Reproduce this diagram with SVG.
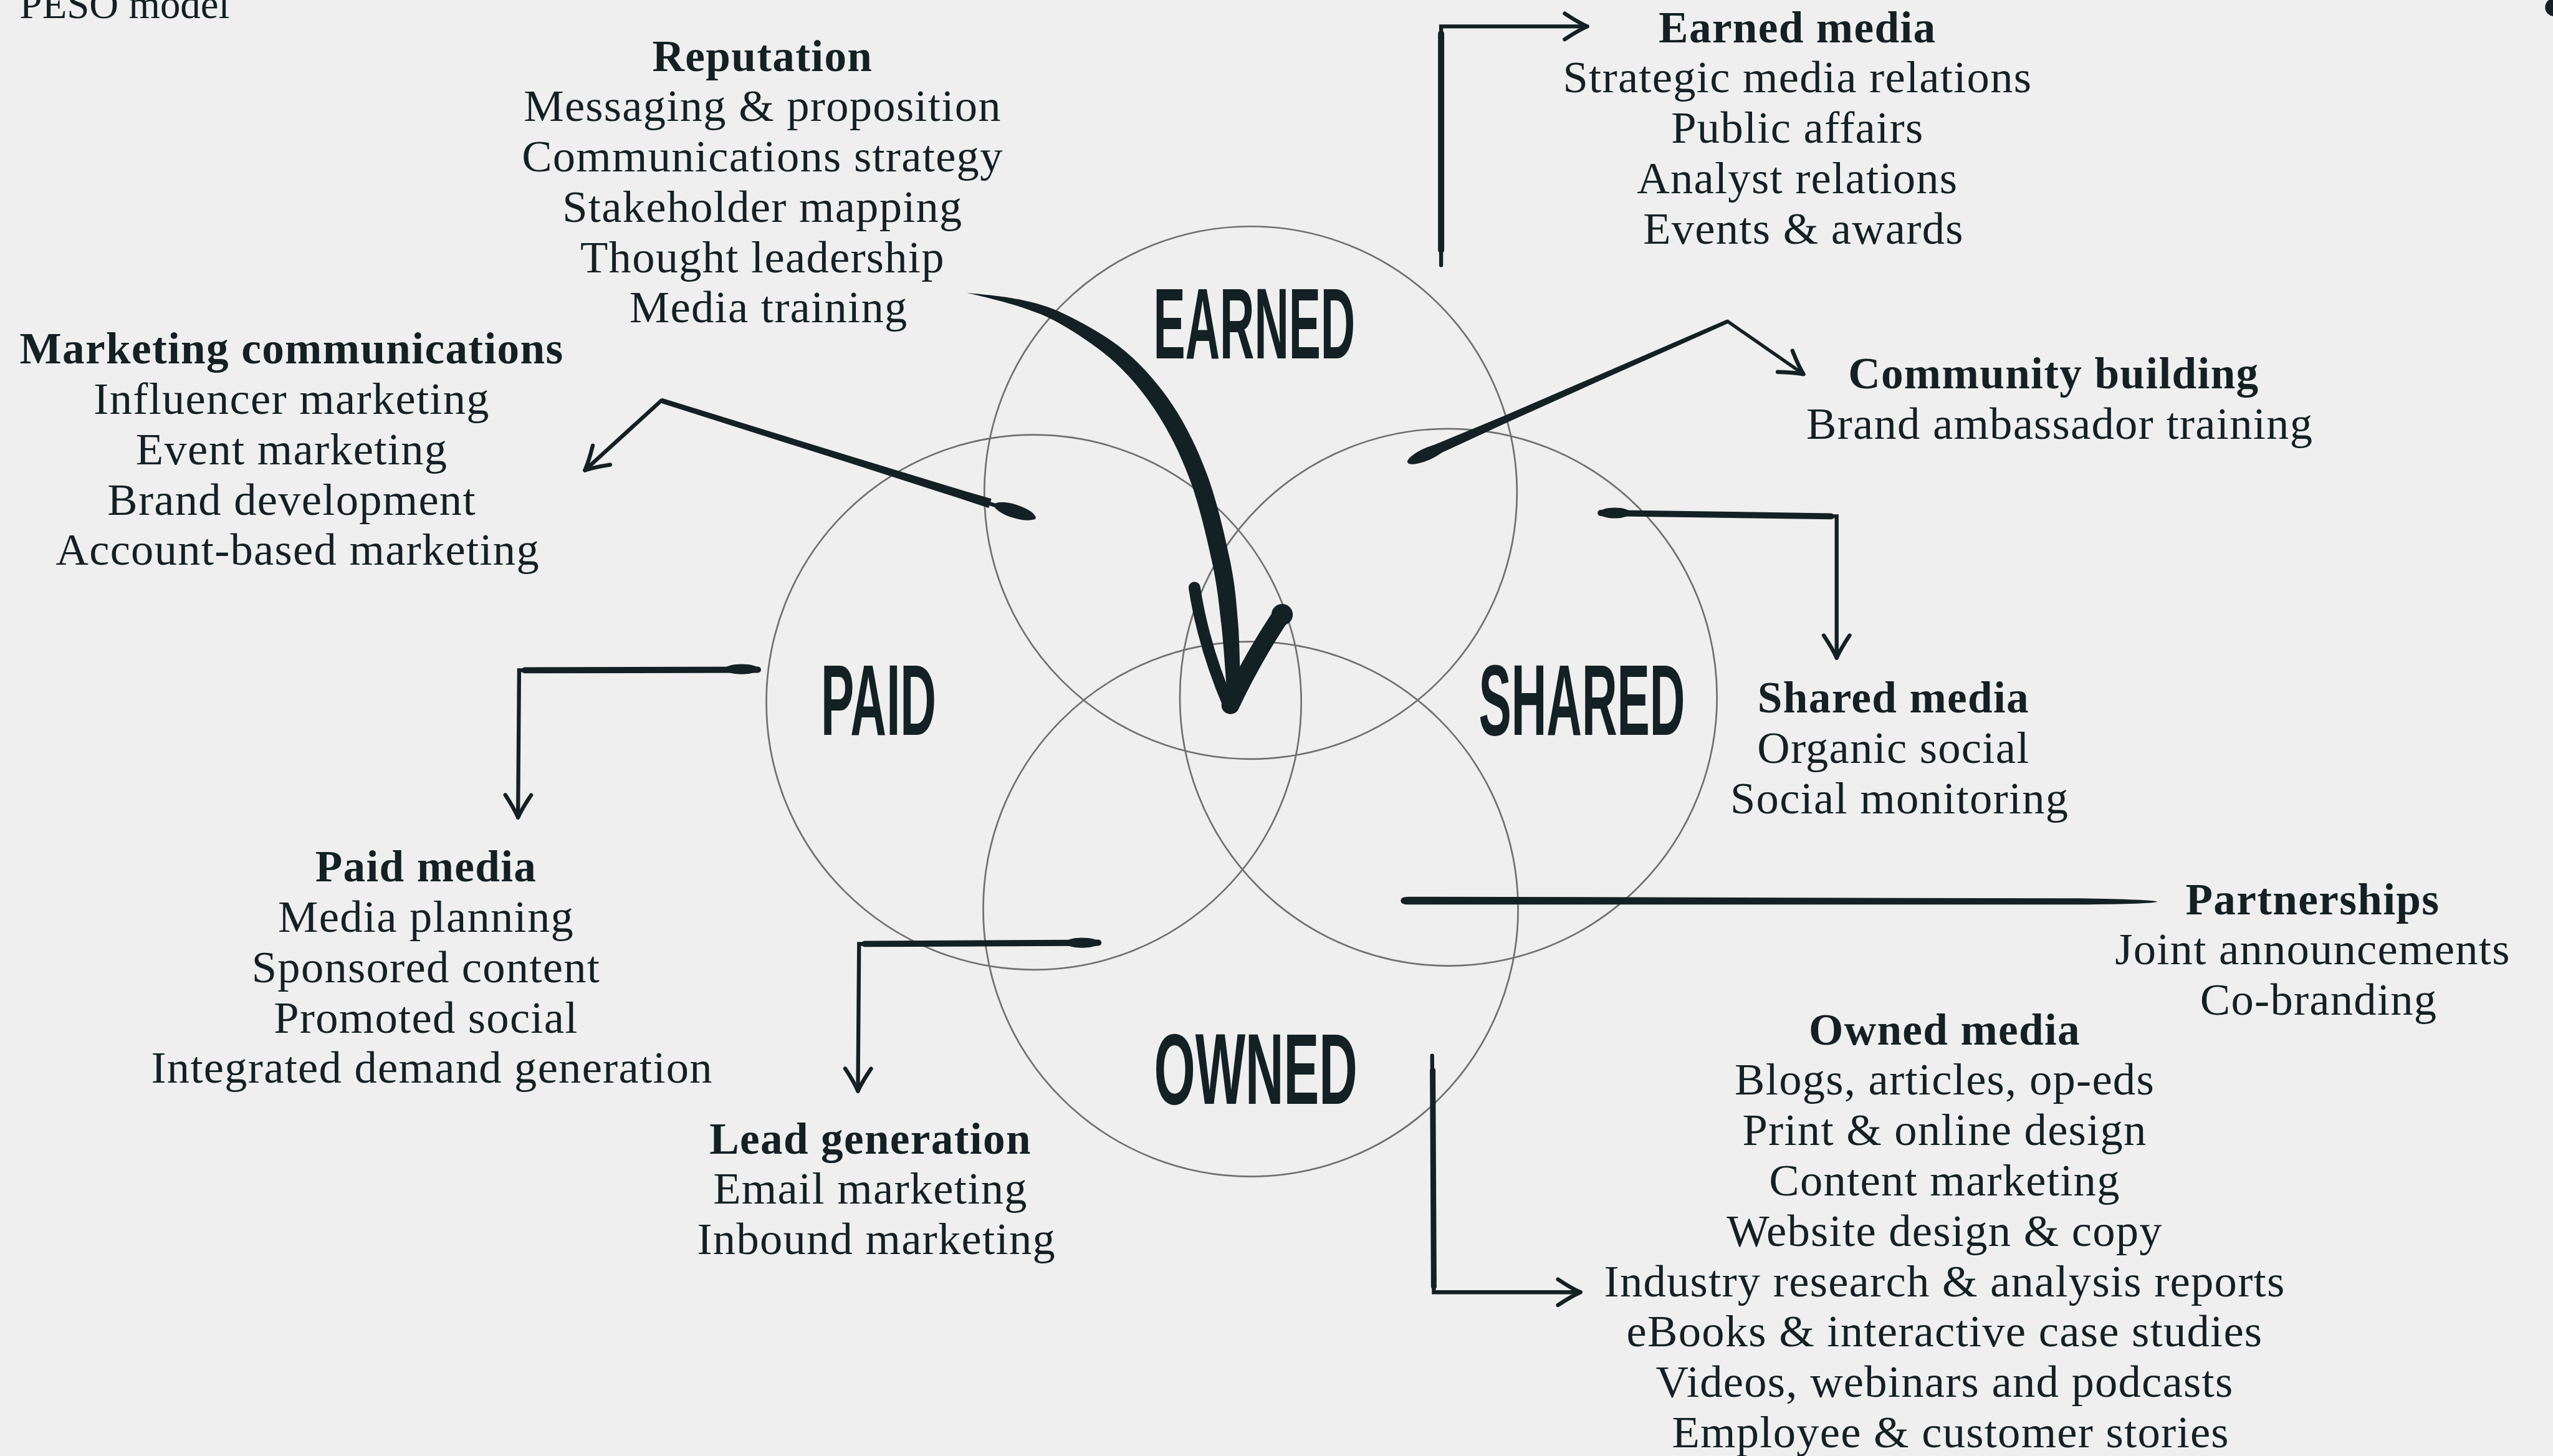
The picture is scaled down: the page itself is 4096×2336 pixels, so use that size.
<svg xmlns="http://www.w3.org/2000/svg" width="4096" height="2336" viewBox="0 0 4096 2336">
<style>
  .ring { fill: none; stroke: #707070; stroke-width: 3; }
  .big { font-family: "Liberation Sans", Arial, sans-serif; font-weight: 700; font-size: 180px; fill: #132024; }
  .t { font-family: "Liberation Serif", "Times New Roman", serif; font-size: 80.5px; letter-spacing: 1.4px; fill: #132024; text-anchor: middle; }
  .h { font-weight: 700; font-size: 79px; letter-spacing: 1.5px; }
  .ink { fill: none; stroke: #132024; stroke-linecap: round; stroke-linejoin: miter; }
  .blob { fill: #132024; }
</style>
<defs>
  <marker id="tip" markerUnits="userSpaceOnUse" orient="auto" viewBox="-50 -50 100 100" markerWidth="100" markerHeight="100" refX="0" refY="0" overflow="visible">
    <path d="M-40 -23 Q-16 -7 0 0 Q-16 7 -40 23" fill="none" stroke="#132024" stroke-width="7" stroke-linecap="round" stroke-linejoin="round"/>
  </marker>
</defs>
<rect width="4096" height="2336" fill="#efefef"/>
<g transform="scale(0.90141)">
  <text class="t" x="35" y="32" style="text-anchor:start;font-size:72px;letter-spacing:0">PESO model</text>
  <circle cx="4546" cy="13" r="16" fill="#132024"/>

  <!-- the four overlapping channel circles -->
  <g id="circles">
    <circle id="ring-earned" class="ring" cx="2226" cy="877" r="474"/>
    <circle id="ring-paid" class="ring" cx="1840" cy="1250" r="476"/>
    <circle id="ring-shared" class="ring" cx="2578" cy="1241" r="478"/>
    <circle id="ring-owned" class="ring" cx="2226" cy="1618" r="476"/>
  </g>

  <!-- condensed channel labels: bold sans squeezed horizontally -->
  <g id="node-earned"><text class="big" transform="translate(2053 638) scale(0.4724 1)">EARNED</text></g>
  <g id="node-paid"><text class="big" transform="translate(1461 1308) scale(0.493 1)">PAID</text></g>
  <g id="node-shared"><text class="big" transform="translate(2632 1308) scale(0.483 1)">SHARED</text></g>
  <g id="node-owned"><text class="big" transform="translate(2054 1965) scale(0.5246 1)">OWNED</text></g>

  <!-- brush-style connectors -->
  <g id="connectors">
    <!-- Reputation: large tapered curve into the centre -->
    <g id="conn-reputation">
      <path class="blob" d="M1721 521 C1735.9 524.9 1782.7 535.2 1810.6 544.5 C1838.5 553.9 1859.3 560.3 1888.4 577.1 C1917.5 593.9 1956.2 618.8 1985 645.6 C2013.8 672.4 2038.9 702.9 2061.1 737.9 C2083.4 772.9 2102.5 812 2118.5 855.7 C2134.5 899.5 2148.1 957.7 2157.3 1000.4 C2166.5 1043.1 2169.4 1072.6 2173.8 1111.7 C2178.3 1150.9 2180.6 1194.1 2184 1235.3 L2208 1234.7 C2206.5 1192.8 2206.8 1148.9 2203.6 1108.9 C2200.4 1068.9 2197.9 1038.6 2188.7 994.6 C2179.5 950.6 2165.4 890.3 2148.5 844.7 C2131.6 799.1 2111.4 757.7 2087.1 721.1 C2062.9 684.6 2034.8 652.3 2003 625.4 C1971.3 598.5 1928.1 575.3 1896.6 559.9 C1865.1 544.5 1843.1 539.4 1813.8 532.9 C1784.5 526.4 1736.5 523 1721 521 Z"/>
      <path class="ink" d="M2126 1046 Q2142 1150 2187 1255" stroke-width="21"/>
      <path class="ink" d="M2190 1255 Q2230 1170 2282 1093" stroke-width="32"/>
      <circle class="blob" cx="2282" cy="1094" r="19"/>
    </g>
    <!-- Marketing communications -->
    <g id="conn-marcom">
      <path class="ink" d="M1840 921 L1177 713 L1041 837" stroke-width="7" marker-end="url(#tip)"/>
      <path class="blob" d="M1175.7 717.3 L1507.7 822.7 L1706.8 886.6 L1759.7 904.1 L1764.7 887.9 L1711.2 872.2 L1511.3 811.3 L1178.3 708.7 Z"/>
      <ellipse class="blob" cx="1806" cy="910" rx="38" ry="12" transform="rotate(17.4 1806 910)"/>
    </g>
    <!-- Paid media -->
    <g id="conn-paid">
      <path class="ink" d="M1349 1192 L924 1193 L922 1455" stroke-width="7" marker-end="url(#tip)"/>
      <path class="ink" d="M934 1193 L1349 1192" stroke-width="11"/>
      <ellipse class="blob" cx="1320" cy="1191" rx="30" ry="9"/>
    </g>
    <!-- Lead generation -->
    <g id="conn-lead">
      <path class="ink" d="M1955 1678 L1529 1680 L1527 1942" stroke-width="7" marker-end="url(#tip)"/>
      <path class="ink" d="M1539 1680 L1955 1678" stroke-width="11"/>
      <ellipse class="blob" cx="1926" cy="1678" rx="30" ry="9"/>
    </g>
    <!-- Community building -->
    <g id="conn-community">
      <path class="ink" d="M2540 808 L3075 572 L3210 666" stroke-width="6" marker-end="url(#tip)"/>
      <path class="blob" d="M2541.3 817.8 L2569.2 804.3 L2681.4 752.3 L2850.6 676.2 L3076.4 575.2 L3073.6 568.8 L2846.6 667 L2676.2 740.4 L2562 787.9 L2533.3 799.5 Z"/>
      <ellipse class="blob" cx="2540" cy="808" rx="38" ry="11" transform="rotate(-23.7 2540 808)"/>
    </g>
    <!-- Shared media -->
    <g id="conn-shared">
      <path class="ink" d="M2849 913 L3269 919 L3269 1171" stroke-width="7" marker-end="url(#tip)"/>
      <path class="ink" d="M2849 913 L3259 919" stroke-width="11"/>
      <ellipse class="blob" cx="2874" cy="913" rx="28" ry="9.5"/>
    </g>
    <!-- Partnerships: tapered stroke, no head -->
    <g id="conn-partnerships">
      <path class="blob" d="M2506 1596 L3700 1599 Q3830 1601 3840 1605 Q3830 1609 3700 1610 L2506 1610 Q2493 1610 2493 1603 Q2493 1596 2506 1596 Z"/>
    </g>
    <!-- Owned media -->
    <g id="conn-owned">
      <path class="ink" d="M2549 1879 L2552 2300 L2813 2300" stroke-width="7" marker-end="url(#tip)"/>
      <path class="ink" d="M2550 1905 L2552 2290" stroke-width="10"/>
    </g>
    <!-- Earned media -->
    <g id="conn-earned">
      <path class="ink" d="M2565 472 L2565 47 L2825 47" stroke-width="7" marker-end="url(#tip)"/>
      <path class="ink" d="M2565 445 L2565 60" stroke-width="11"/>
    </g>
  </g>

  <!-- text blocks -->
  <g id="reputation">
    <text class="t">
      <tspan class="h" x="1368" y="126">Reputation</tspan>
      <tspan x="1368" y="215.6">Messaging &amp; proposition</tspan>
      <tspan x="1368" y="305.2">Communications strategy</tspan>
      <tspan x="1368" y="394.8">Stakeholder mapping</tspan>
      <tspan x="1368" y="484.4">Thought leadership</tspan>
      <tspan x="1368" y="574">Media training</tspan>
    </text>
  </g>
  <g id="earned-media">
    <text class="t">
      <tspan class="h" x="3210" y="75">Earned media</tspan>
      <tspan x="3210" y="164.6">Strategic media relations</tspan>
      <tspan x="3210" y="254.2">Public affairs</tspan>
      <tspan x="3210" y="343.8">Analyst relations</tspan>
      <tspan x="3210" y="433.4">Events &amp; awards</tspan>
    </text>
  </g>
  <g id="marketing-communications">
    <text class="t">
      <tspan class="h" x="530" y="647">Marketing communications</tspan>
      <tspan x="530" y="736.6">Influencer marketing</tspan>
      <tspan x="530" y="826.2">Event marketing</tspan>
      <tspan x="530" y="915.8">Brand development</tspan>
      <tspan x="530" y="1005.4">Account-based marketing</tspan>
    </text>
  </g>
  <g id="community-building">
    <text class="t">
      <tspan class="h" x="3666" y="691">Community building</tspan>
      <tspan x="3666" y="780.6">Brand ambassador training</tspan>
    </text>
  </g>
  <g id="shared-media">
    <text class="t">
      <tspan class="h" x="3381" y="1268">Shared media</tspan>
      <tspan x="3381" y="1357.6">Organic social</tspan>
      <tspan x="3381" y="1447.2">Social monitoring</tspan>
    </text>
  </g>
  <g id="paid-media">
    <text class="t">
      <tspan class="h" x="769" y="1569">Paid media</tspan>
      <tspan x="769" y="1658.6">Media planning</tspan>
      <tspan x="769" y="1748.2">Sponsored content</tspan>
      <tspan x="769" y="1837.8">Promoted social</tspan>
      <tspan x="769" y="1927.4">Integrated demand generation</tspan>
    </text>
  </g>
  <g id="partnerships">
    <text class="t">
      <tspan class="h" x="4127" y="1627">Partnerships</tspan>
      <tspan x="4127" y="1716.6">Joint announcements</tspan>
      <tspan x="4127" y="1806.2">Co-branding</tspan>
    </text>
  </g>
  <g id="owned-media">
    <text class="t">
      <tspan class="h" x="3472" y="1859">Owned media</tspan>
      <tspan x="3472" y="1948.6">Blogs, articles, op-eds</tspan>
      <tspan x="3472" y="2038.2">Print &amp; online design</tspan>
      <tspan x="3472" y="2127.8">Content marketing</tspan>
      <tspan x="3472" y="2217.4">Website design &amp; copy</tspan>
      <tspan x="3472" y="2307">Industry research &amp; analysis reports</tspan>
      <tspan x="3472" y="2396.6">eBooks &amp; interactive case studies</tspan>
      <tspan x="3472" y="2486.2">Videos, webinars and podcasts</tspan>
      <tspan x="3472" y="2575.8">Employee &amp; customer stories</tspan>
    </text>
  </g>
  <g id="lead-generation">
    <text class="t">
      <tspan class="h" x="1560" y="2053">Lead generation</tspan>
      <tspan x="1560" y="2142.6">Email marketing</tspan>
      <tspan x="1560" y="2232.2">Inbound marketing</tspan>
    </text>
  </g>
</g>
</svg>
